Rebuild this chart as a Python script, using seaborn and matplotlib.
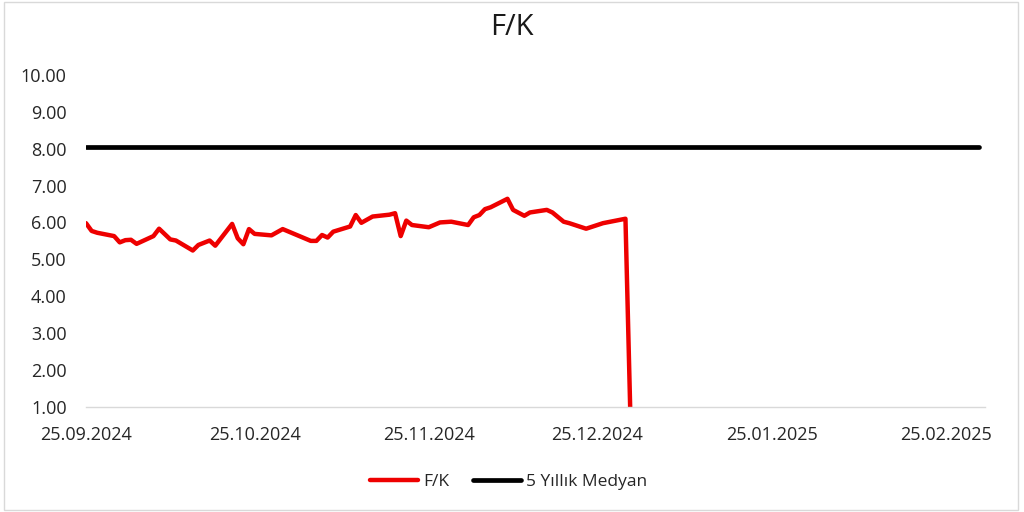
import numpy as np
import pandas as pd
import matplotlib
matplotlib.use("Agg")
import matplotlib.pyplot as plt
import matplotlib.dates as mdates
import seaborn as sns

# F/K günlük değerleri
fk_dates = [
    "2024-09-25", "2024-09-26", "2024-09-27", "2024-09-30", "2024-10-01", "2024-10-02",
    "2024-10-03", "2024-10-04", "2024-10-07", "2024-10-08", "2024-10-10", "2024-10-11",
    "2024-10-14", "2024-10-15", "2024-10-17", "2024-10-18", "2024-10-21", "2024-10-22",
    "2024-10-23", "2024-10-24", "2024-10-25", "2024-10-28", "2024-10-30", "2024-11-04",
    "2024-11-05", "2024-11-06", "2024-11-07", "2024-11-08", "2024-11-11", "2024-11-12",
    "2024-11-13", "2024-11-15", "2024-11-18", "2024-11-19", "2024-11-20", "2024-11-21",
    "2024-11-22", "2024-11-25", "2024-11-27", "2024-11-29", "2024-12-02", "2024-12-03",
    "2024-12-04", "2024-12-05", "2024-12-06", "2024-12-09", "2024-12-10", "2024-12-12",
    "2024-12-13", "2024-12-16", "2024-12-17", "2024-12-19", "2024-12-20", "2024-12-23",
    "2024-12-25", "2024-12-26", "2024-12-30", "2024-12-31",
]
fk_values = [
    5.98, 5.77, 5.72, 5.63, 5.46, 5.52,
    5.53, 5.42, 5.63, 5.83, 5.54, 5.51,
    5.24, 5.39, 5.51, 5.37, 5.96, 5.57,
    5.41, 5.82, 5.69, 5.65, 5.82, 5.50,
    5.50, 5.66, 5.59, 5.75, 5.89, 6.20,
    5.99, 6.16, 6.21, 6.25, 5.63, 6.05,
    5.93, 5.87, 6.00, 6.02, 5.93, 6.14,
    6.20, 6.36, 6.41, 6.64, 6.34, 6.18,
    6.27, 6.34, 6.27, 6.02, 5.98, 5.83,
    5.93, 5.98, 6.10, 0.00,
]

# 5 yıllık medyan
med_dates = ["2024-09-25", "2025-03-03"]
med_values = [8.03, 8.03]

x_start, x_end = "2024-09-25", "2025-03-04"
y_ticks = [1, 2, 3, 4, 5, 6, 7, 8, 9, 10]

sns.set_style("white")
plt.rcParams["font.family"] = ["Open Sans", "DejaVu Sans"]

fk = pd.DataFrame({"tarih": pd.to_datetime(fk_dates), "deger": fk_values})
med = pd.DataFrame({"tarih": pd.to_datetime(med_dates), "deger": med_values})

fig = plt.figure(figsize=(10.24, 5.12), dpi=100)
ax = fig.add_axes([0.084, 0.205, 0.878, 0.649])

sns.lineplot(data=fk, x="tarih", y="deger", ax=ax, color="#ee0000", lw=3.2, label="F/K")
sns.lineplot(data=med, x="tarih", y="deger", ax=ax, color="black", lw=3.4, label="5 Yıllık Medyan")

ax.set_xlim(pd.Timestamp(x_start), pd.Timestamp(x_end))
ax.set_ylim(1, 10)
ax.set_yticks(y_ticks)
ax.yaxis.set_major_formatter(matplotlib.ticker.FuncFormatter(lambda v, _: f"{v:.2f}"))
ax.xaxis.set_major_locator(mdates.MonthLocator(bymonthday=25))
ax.xaxis.set_major_formatter(mdates.DateFormatter("%d.%m.%Y"))
ax.set_xlabel(""); ax.set_ylabel("")

for s in ["top", "right", "left"]:
    ax.spines[s].set_visible(False)
ax.spines["bottom"].set_color("#d9d9d9")
ax.spines["bottom"].set_linewidth(1.0)
ax.tick_params(axis="x", colors="#d9d9d9", length=4, direction="inout", labelcolor="#262626",
               labelsize=13, pad=12)
ax.tick_params(axis="y", length=0, labelcolor="#262626", labelsize=13, pad=14)
ax.grid(False)

fig.suptitle("F/K", y=0.975, fontsize=21, color="#1a1a1a")
ax.legend(loc="center", bbox_to_anchor=(0.47, -0.225), ncol=2, frameon=False,
          fontsize=12.5, handlelength=2.75, columnspacing=1.4, handletextpad=0.3,
          labelcolor="#262626")

fig.patches.append(plt.Rectangle((0.004, 0.004), 0.99, 0.992, transform=fig.transFigure,
                                 fill=False, edgecolor="#d9d9d9", lw=1.0))
fig.savefig("out.png", dpi=100)
